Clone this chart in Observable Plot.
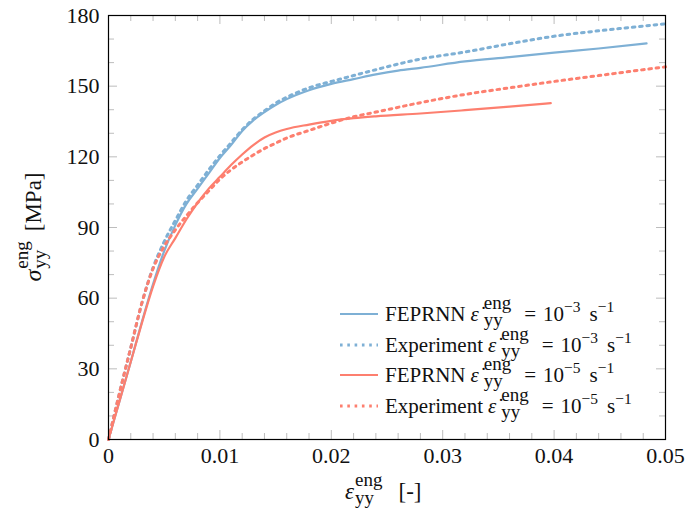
<!DOCTYPE html>
<html><head><meta charset="utf-8">
<script src="https://cdn.jsdelivr.net/npm/d3@7"></script>
<script src="https://cdn.jsdelivr.net/npm/@observablehq/plot@0.6"></script>
<style>body{margin:0;background:#fff}svg text{white-space:pre}</style>
</head><body><div id="chart"></div>
<script>
// ---- data ----
const blue = "#7eb0d5", red = "#fd7f6f";

const feFastStrain = [0, 0.001, 0.002, 0.003, 0.004, 0.005, 0.006, 0.007, 0.008, 0.009, 0.010, 0.011, 0.012, 0.013, 0.014, 0.015, 0.016, 0.018, 0.020, 0.022, 0.024, 0.026, 0.028, 0.032, 0.036, 0.040, 0.044, 0.0483];
const feFastStress = [0, 16.5, 33, 50, 66, 80, 91, 100, 106.5, 113, 119.5, 125, 131, 135.5, 139, 142, 144.5, 148.3, 151, 153, 155, 156.6, 157.8, 160.5, 162.3, 164.2, 166, 168.2];

const expFastStrain = [0, 0.001, 0.002, 0.003, 0.004, 0.005, 0.006, 0.007, 0.008, 0.009, 0.010, 0.011, 0.012, 0.013, 0.014, 0.015, 0.016, 0.018, 0.020, 0.022, 0.024, 0.028, 0.032, 0.036, 0.040, 0.044, 0.048, 0.050];
const expFastStress = [0, 20, 39, 58, 73, 84, 93, 101.5, 108, 114.5, 120.5, 126, 131.5, 136, 139.5, 142.8, 145.3, 149.3, 152, 154.5, 157, 161.5, 164.5, 168, 171.2, 173.5, 175.5, 176.5];

const feSlowStrain = [0, 0.001, 0.002, 0.003, 0.004, 0.005, 0.006, 0.007, 0.008, 0.009, 0.010, 0.011, 0.012, 0.013, 0.014, 0.015, 0.016, 0.018, 0.020, 0.022, 0.024, 0.028, 0.032, 0.036, 0.0397];
const feSlowStress = [0, 16.5, 33, 49.5, 65, 77.5, 85.5, 93.5, 100.5, 106.5, 111.5, 116.5, 121, 125, 128.2, 130.3, 131.8, 133.7, 135.3, 136.4, 137.2, 138.4, 139.8, 141.3, 142.8];

const expSlowStrain = [0, 0.001, 0.002, 0.003, 0.004, 0.005, 0.006, 0.007, 0.008, 0.009, 0.010, 0.011, 0.012, 0.013, 0.014, 0.015, 0.016, 0.018, 0.020, 0.022, 0.024, 0.028, 0.032, 0.036, 0.040, 0.044, 0.048, 0.050];
const expSlowStress = [0, 20, 39, 58, 72.5, 82, 89, 95, 100.5, 105.5, 110.5, 114.5, 117.8, 120.8, 123.5, 125.8, 128, 131.2, 134.3, 137, 139, 143, 146.5, 149.3, 152, 154.5, 157, 158.2];

const xMajor = [0, 0.01, 0.02, 0.03, 0.04, 0.05];
const xTickLabels = ["0", "0.01", "0.02", "0.03", "0.04", "0.05"];
const yMajor = [0, 30, 60, 90, 120, 150, 180];
const yTickLabels = ["0", "30", "60", "90", "120", "150", "180"];
const xMinor = [0.002, 0.004, 0.006, 0.008, 0.012, 0.014, 0.016, 0.018, 0.022, 0.024, 0.026, 0.028, 0.032, 0.034, 0.036, 0.038, 0.042, 0.044, 0.046, 0.048];
const yMinor = [10, 20, 40, 50, 70, 80, 100, 110, 130, 140, 160, 170];

const seriesNames = ["FEPRNN", "Experiment", "FEPRNN", "Experiment"];
const seriesRates = ["\u22123", "\u22123", "\u22125", "\u22125"];
const seriesColors = [blue, blue, red, red];
const seriesDotted = [false, true, false, true];
const seriesStrain = [feFastStrain, expFastStrain, feSlowStrain, expSlowStrain];
const seriesStress = [feFastStress, expFastStress, feSlowStress, expSlowStress];

// ---- layout ----
const W = 688, H = 515, mL = 108, mR = 23, mT = 15, mB = 76;
const iw = W - mL - mR, ih = H - mT - mB;
const tickGray = "#bdbdbd";
const FONT = "'Liberation Serif', 'DejaVu Serif', serif";
const DASH = "2.6 4.7";

const lineMarks = seriesStrain.map((s, k) => Plot.line(s, {
  x: s, y: seriesStress[k], stroke: seriesColors[k],
  strokeWidth: seriesDotted[k] ? 3 : 2.2,
  strokeDasharray: seriesDotted[k] ? DASH : null,
  curve: "monotone-x"
}));

const plot = Plot.plot({
  width: W, height: H,
  marginLeft: mL, marginRight: mR, marginTop: mT, marginBottom: mB,
  style: {fontFamily: FONT, fontSize: "22px", color: "#111", background: "#fff"},
  x: {domain: [0, 0.05]},
  y: {domain: [0, 180]},
  marks: [
    Plot.ruleX(xMinor, {stroke: tickGray, insetTop: ih - 6}),
    Plot.ruleX(xMinor, {stroke: tickGray, insetBottom: ih - 6}),
    Plot.ruleX(xMajor, {stroke: tickGray, insetTop: ih - 9}),
    Plot.ruleX(xMajor, {stroke: tickGray, insetBottom: ih - 9}),
    Plot.ruleY(yMinor, {stroke: tickGray, insetRight: iw - 6}),
    Plot.ruleY(yMinor, {stroke: tickGray, insetLeft: iw - 6}),
    Plot.ruleY(yMajor, {stroke: tickGray, insetRight: iw - 9}),
    Plot.ruleY(yMajor, {stroke: tickGray, insetLeft: iw - 9}),
    ...lineMarks,
    Plot.frame({stroke: "#000", strokeWidth: 1.2}),
    Plot.axisX(xMajor, {tickSize: 0, tickPadding: 8, label: null,
      tickFormat: d => xTickLabels[xMajor.indexOf(d)]}),
    Plot.axisY(yMajor, {tickSize: 0, tickPadding: 9, label: null,
      tickFormat: d => yTickLabels[yMajor.indexOf(d)]})
  ]
});
document.getElementById("chart").appendChild(plot);

// ---- rich text (sub/superscripts) ----
const svg = d3.select(plot);
function rich(parent, parts) {
  const g = parent.append("g").attr("font-family", FONT).attr("fill", "#111")
    .attr("text-anchor", "start").style("text-anchor", "start");
  let x = 0;
  const put = (t, size, dy, italic) => {
    const el = g.append("text").attr("x", x).attr("y", dy || 0)
      .attr("text-anchor", "start")
      .attr("font-size", size).attr("font-style", italic ? "italic" : null).text(t);
    return el.node().getComputedTextLength();
  };
  for (const p of parts) {
    if (p.gap) { x += p.gap; continue; }
    if (p.stack) {
      let w = 0;
      if (p.sup) w = Math.max(w, put(p.sup, p.size, p.up, false));
      if (p.sub) w = Math.max(w, put(p.sub, p.size, p.down, false));
      x += w;
    } else {
      x += put(p.t, p.size, p.dy, p.italic);
    }
  }
  return {g, width: x};
}

// legend
const legY = [314, 345, 375, 406];
seriesNames.forEach((name, k) => {
  const y = legY[k];
  svg.append("line").attr("x1", 340).attr("x2", 378).attr("y1", y).attr("y2", y)
    .attr("stroke", seriesColors[k]).attr("stroke-width", seriesDotted[k] ? 3 : 2.2)
    .attr("stroke-dasharray", seriesDotted[k] ? DASH : null);
  const r = rich(svg, [
    {t: name, size: 21},
    {gap: 5},
    {t: "\u03b5\u0307", size: 21, italic: true},
    {gap: 5},
    {stack: true, sup: "eng", sub: "yy", size: 19, up: -12, down: 5},
    {gap: 13},
    {t: "=", size: 21},
    {gap: 7},
    {t: "10", size: 21},
    {stack: true, sup: seriesRates[k], size: 15.5, up: -9},
    {gap: 9},
    {t: "s", size: 21},
    {stack: true, sup: "\u22121", size: 15.5, up: -9}
  ]);
  r.g.attr("transform", `translate(385,${y + 7})`);
});

// x axis label
{
  const r = rich(svg, [
    {t: "\u03b5", size: 23, italic: true},
    {gap: 1},
    {stack: true, sup: "eng", sub: "yy", size: 19, up: -13, down: 5},
    {gap: 16},
    {t: "[-]", size: 23}
  ]);
  r.g.attr("transform", `translate(${345},499)`);
}
// y axis label
{
  const r = rich(svg, [
    {t: "\u03c3", size: 24, italic: true},
    {gap: 1},
    {stack: true, sup: "eng", sub: "yy", size: 19, up: -13, down: 5},
    {gap: 10},
    {t: "[MPa]", size: 23}
  ]);
  r.g.attr("transform", `translate(41,${mT + ih / 2}) rotate(-90) translate(${-r.width / 2},0)`);
}
</script>
</body></html>
